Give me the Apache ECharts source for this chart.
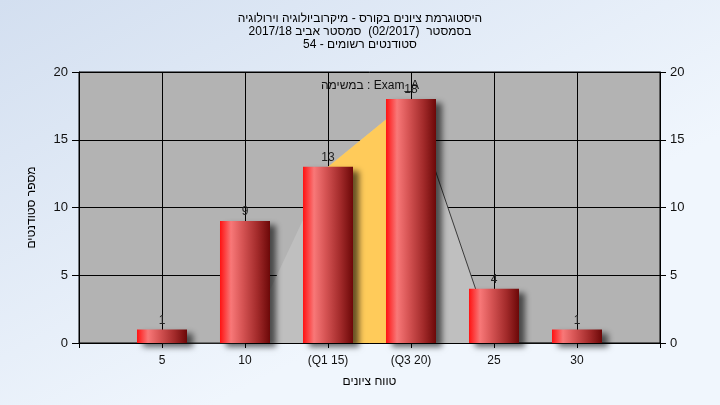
<!DOCTYPE html>
<html>
<head>
<meta charset="utf-8">
<script src="https://cdn.jsdelivr.net/npm/echarts@6/dist/echarts.min.js"></script>
<style>
html,body{margin:0;padding:0;}
#chart{width:720px;height:405px;}
</style>
</head>
<body>
<div id="chart"></div>
<script>
// ---- data ----
const titleLines = [
  'היסטוגרמת ציונים בקורס - מיקרוביולוגיה וירולוגיה',
  'בסמסטר  (02/2017)  סמסטר אביב 2017/18',
  'סטודנטים רשומים - 54'
];
const taskLabel = 'במשימה : Exam_A';
const xAxisTitle = 'טווח ציונים';
const yAxisTitle = 'מספר סטודנטים';
const grades = [5, 10, 15, 20, 25, 30];
const gradeLabels = ['5', '10', '(Q1 15)', '(Q3 20)', '25', '30'];
const counts = [1, 9, 13, 18, 4, 1];
const curveValues = [0, 0, 13, 18, 0, 0];
const iqrGrades = [15, 20];
const iqrValues = [13, 18];

const FONT = '"Liberation Sans", Arial, "DejaVu Sans", sans-serif';
const pairs = (xs, ys) => xs.map((x, i) => [x, ys[i]]);
const curve = pairs(grades, curveValues);
const labelFor = v => { const i = grades.indexOf(v); return i >= 0 ? gradeLabels[i] : ''; };

const chart = echarts.init(document.getElementById('chart'), null, {renderer: 'canvas'});
const option = {
  animation: false,
  backgroundColor: {
    type: 'linear', x: 0, y: 0, x2: 0.3, y2: 1,
    colorStops: [{offset: 0, color: '#d3dff0'}, {offset: 1, color: '#f0f6fd'}]
  },
  title: {
    text: titleLines.join('\n'),
    left: 'center', top: 7,
    textStyle: {fontFamily: FONT, fontSize: 12, fontWeight: 'normal', color: '#000', lineHeight: 13}
  },
  grid: {left: 79, right: 60, top: 72, bottom: 62, show: true, backgroundColor: '#b3b3b3', borderColor: '#000', borderWidth: 1},
  graphic: [{
    type: 'text', x: 370, y: 86, z: 10,
    style: {text: taskLabel, font: '12px ' + FONT, fill: '#111', textAlign: 'center', textVerticalAlign: 'middle'}
  }],
  xAxis: {
    type: 'value', min: 0, max: 35, interval: 5,
    name: xAxisTitle, nameLocation: 'middle', nameGap: 33,
    nameTextStyle: {fontFamily: FONT, fontSize: 12, color: '#000'},
    axisLine: {show: true, lineStyle: {color: '#000', width: 1}},
    axisTick: {show: true, length: 5, lineStyle: {color: '#000'}},
    axisLabel: {formatter: labelFor, fontFamily: FONT, fontSize: 12, color: '#111', margin: 12},
    splitLine: {show: true, lineStyle: {color: '#000', width: 1}}
  },
  yAxis: [{
    type: 'value', min: 0, max: 20, interval: 5, position: 'left',
    name: yAxisTitle, nameLocation: 'middle', nameGap: 41,
    nameTextStyle: {fontFamily: FONT, fontSize: 12, color: '#000'},
    axisLine: {show: true, lineStyle: {color: '#000'}},
    axisTick: {show: true, length: 7, lineStyle: {color: '#000'}},
    axisLabel: {fontFamily: FONT, fontSize: 13, color: '#111', margin: 11},
    splitLine: {show: true, lineStyle: {color: '#000', width: 1}}
  }, {
    type: 'value', min: 0, max: 20, interval: 5, position: 'right',
    axisLine: {show: true, lineStyle: {color: '#000'}},
    axisTick: {show: true, length: 6, lineStyle: {color: '#000'}},
    axisLabel: {fontFamily: FONT, fontSize: 13, color: '#111', margin: 10},
    splitLine: {show: false}
  }],
  series: [
    {
      type: 'line', data: curve, symbol: 'none', z: 1,
      lineStyle: {width: 0, opacity: 0},
      areaStyle: {color: '#bfbfbf', opacity: 1}
    },
    {
      type: 'line', data: pairs(iqrGrades, iqrValues), symbol: 'none', z: 2,
      lineStyle: {width: 0, opacity: 0},
      areaStyle: {color: '#ffcb5a', opacity: 1}
    },
    {
      type: 'line', data: curve.slice(3), symbol: 'none', z: 3,
      lineStyle: {width: 1, color: '#3a3a3a'}
    },
    {
      type: 'line', data: curve.slice(0, 2), symbol: 'none', z: 3,
      lineStyle: {width: 1, color: '#808080'}
    },
    {
      type: 'bar', data: pairs(grades, counts), barWidth: 50, z: 5,
      itemStyle: {
        color: {
          type: 'linear', x: 0, y: 0, x2: 1, y2: 0,
          colorStops: [
            {offset: 0, color: '#ff1212'},
            {offset: 0.22, color: '#f87878'},
            {offset: 0.45, color: '#d65454'},
            {offset: 0.75, color: '#a22a2a'},
            {offset: 1, color: '#6c0808'}
          ]
        },
        shadowColor: 'rgba(0,0,0,0.6)', shadowBlur: 6, shadowOffsetX: 6, shadowOffsetY: 4
      },
      label: {show: true, position: 'top', distance: 3, fontFamily: FONT, fontSize: 12, color: '#222'}
    }
  ]
};
chart.setOption(option);
</script>
</body>
</html>
